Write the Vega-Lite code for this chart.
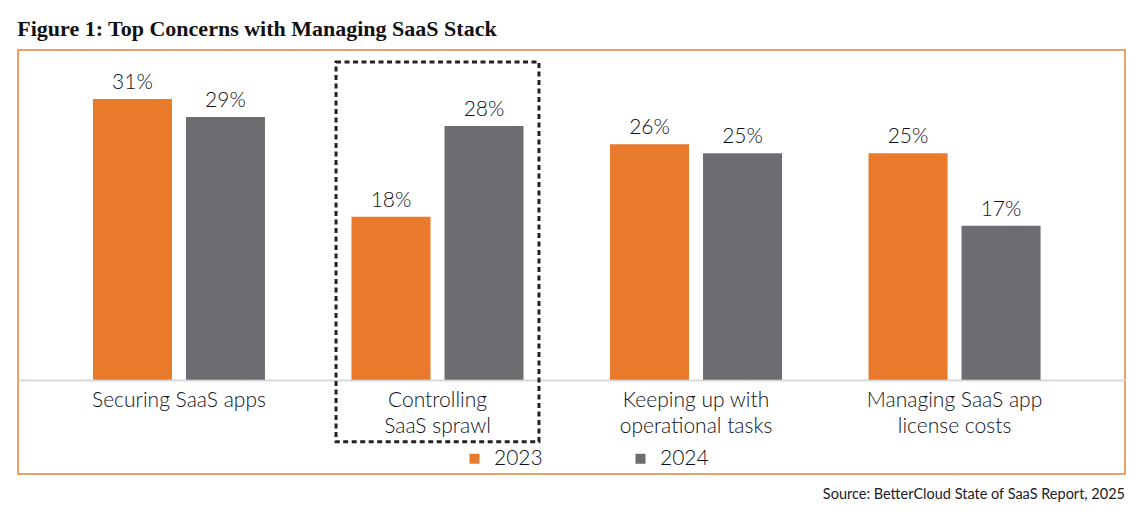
{
  "$schema": "https://vega.github.io/schema/vega-lite/v6.json",
  "background": "white",
  "padding": {"left": 17, "top": 18, "right": 17, "bottom": 10},
  "title": {"text": "Figure 1: Top Concerns with Managing SaaS Stack", "anchor": "start", "font": "Liberation Serif", "fontSize": 22, "fontWeight": "bold", "color": "#111111", "offset": 8},
  "config": {
    "view": {"stroke": "#E8823A", "strokeWidth": 1.5},
    "concat": {"spacing": 0}
  },
  "datasets": {
    "survey": [
      {"category": "Securing SaaS apps", "year": "2023", "value": 0.31},
      {"category": "Securing SaaS apps", "year": "2024", "value": 0.29},
      {"category": "Controlling|SaaS sprawl", "year": "2023", "value": 0.18},
      {"category": "Controlling|SaaS sprawl", "year": "2024", "value": 0.28},
      {"category": "Keeping up with|operational tasks", "year": "2023", "value": 0.26},
      {"category": "Keeping up with|operational tasks", "year": "2024", "value": 0.25},
      {"category": "Managing SaaS app|license costs", "year": "2023", "value": 0.25},
      {"category": "Managing SaaS app|license costs", "year": "2024", "value": 0.17}
    ],
    "highlight": [
      {"category": "Controlling|SaaS sprawl"}
    ]
  },
  "vconcat": [
    {
      "width": 1107,
      "height": 424,
      "title": {"text": "Source: BetterCloud State of SaaS Report, 2025", "orient": "bottom", "anchor": "end", "font": "Lato", "fontSize": 14.5, "fontWeight": "normal", "color": "#1A1A2A", "offset": 14},
      "layer": [
        {
          "data": {"name": "survey"},
          "mark": {"type": "bar"},
          "encoding": {
            "x": {"field": "category", "type": "nominal", "sort": null,
              "scale": {"paddingInner": 0, "paddingOuter": 0.141, "align": 0.435},
              "axis": {"title": null, "labelExpr": "split(datum.label, '|')", "ticks": false, "domainColor": "#D9D9D9", "domainWidth": 2, "labelFont": "Lato", "labelFontWeight": 300, "labelFontSize": 21, "labelColor": "#10101E", "labelPadding": 9, "labelLineHeight": 26, "offset": -94, "labelAngle": 0}},
            "xOffset": {"field": "year", "type": "nominal", "scale": {"paddingInner": 0.1505, "paddingOuter": 0.465}},
            "y": {"field": "value", "type": "quantitative", "scale": {"domain": [-0.104, 0.364], "nice": false, "zero": false}, "axis": null},
            "color": {"field": "year", "type": "nominal",
              "scale": {"domain": ["2023", "2024"], "range": ["#E97A2B", "#6C6D71"]},
              "legend": {"title": null, "orient": "none", "legendX": 446, "legendY": 398, "direction": "horizontal", "symbolType": "square", "symbolSize": 100, "symbolStrokeWidth": 0, "symbolOpacity": 1, "labelFont": "Lato", "labelFontWeight": 300, "labelFontSize": 21, "labelColor": "#10101E", "labelOffset": 9, "columnPadding": 87, "padding": 0}}
          }
        },
        {
          "data": {"name": "survey"},
          "mark": {"type": "text", "baseline": "alphabetic", "dy": -10, "font": "Lato", "fontWeight": 300, "fontSize": 21, "color": "#10101E"},
          "encoding": {
            "x": {"field": "category", "type": "nominal", "sort": null},
            "xOffset": {"field": "year", "type": "nominal"},
            "y": {"field": "value", "type": "quantitative"},
            "text": {"field": "value", "type": "quantitative", "format": ".0%"}
          }
        },
        {
          "data": {"name": "highlight"},
          "mark": {"type": "bar", "width": {"band": 0.785}, "fillOpacity": 0, "stroke": "#222222", "strokeWidth": 3, "strokeDash": [5, 3.5]},
          "encoding": {
            "x": {"field": "category", "type": "nominal", "sort": null},
            "y": {"datum": 0.3508, "type": "quantitative"},
            "y2": {"datum": -0.0684}
          }
        }
      ]
    }
  ]
}
